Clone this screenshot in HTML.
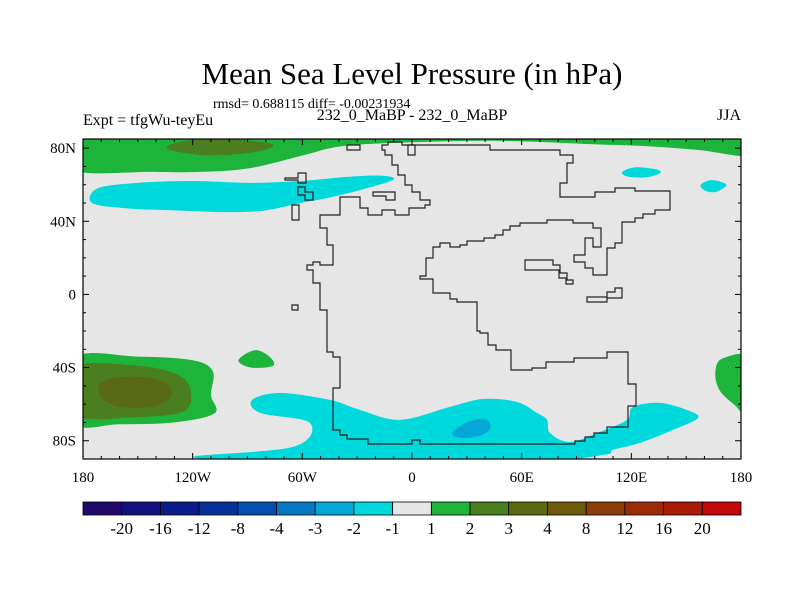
<!DOCTYPE html>
<html><head><meta charset="utf-8"><style>
body{margin:0;background:#fff;}
svg{display:block;font-family:"Liberation Serif",serif;}
</style></head><body>
<svg id="chart" width="800" height="600" viewBox="0 0 800 600">
<text x="412" y="84" font-size="31" text-anchor="middle">Mean Sea Level Pressure (in hPa)</text>
<text x="213" y="108" font-size="14">rmsd= 0.688115 diff= -0.00231934</text>
<text x="83" y="125" font-size="16">Expt = tfgWu-teyEu</text>
<text x="412" y="120" font-size="16" text-anchor="middle">232_0_MaBP - 232_0_MaBP</text>
<text x="741" y="120" font-size="16" text-anchor="end">JJA</text>
<defs><clipPath id="pc"><rect x="83" y="139" width="658" height="320"/></clipPath></defs>
<g id="plot" clip-path="url(#pc)">
<rect x="83" y="139" width="658" height="320" fill="#e6e6e6"/>
<g id="fills"></g>
<g id="coast" fill="none" stroke="#222" stroke-width="1.2">
<path d="M382,145 H388 V142 H402 V145 H490 V150 H560 V155 H573 V163 H567 V183 H560 V197 H595 V192 H615 V188 H635 V191 H670 V210 H655 V214 H643 V218 H635 V222 H622 V243 H615 V248 H607 V275 H593 V268 H585 V262 H574 V255 H585 V238 H593 V247 H601 V228 H593 V223 H573 V220 H547 V223 H520 V226 H510 V230 H503 V235 H495 V238 H484 V241 H467 V245 H460 V247 H450 V243 H440 V247 H433 V258 H426 V276 H420 V279 H433 V293 H450 V299 H457 V302 H477 V331 H480 V333 H488 V345 H496 V350 H511 V370 H532 V368 H546 V362 H574 V358 H607 V352 H628 V384 H636 V406 H628 V427 H607 V433 H594 V437 H585 V441 H575 V444 H420 V440 H412 V444 H368 V439 H347 V435 H340 V430 H333 V388 H340 V357 H333 V352 H327 V310 H320 V283 H313 V270 H307 V265 H313 V262 H320 V265 H333 V245 H327 V228 H320 V215 H340 V197 H360 V208 H368 V215 H382 V210 H395 V215 H409 V208 H425 V205 H430 V200 H420 V192 H412 V185 H405 V175 H398 V165 H392 V155 H385 V150 H382 Z"/>
<path d="M525,260 H553 V265 H560 V273 H567 V280 H573 V284 H566 V278 H559 V270 H525 Z"/>
<path d="M587,297 H607 V292 H615 V288 H622 V298 H607 V302 H587 Z"/>
<path d="M292,305 H298 V310 H292 Z"/>
<path d="M285,178 H298 V173 H306 V183 H298 V180 H285 Z"/>
<path d="M298,187 H305 V192 H313 V200 H305 V195 H298 Z"/>
<path d="M292,205 H299 V220 H292 Z"/>
<path d="M347,145 H360 V150 H347 Z"/>
<path d="M373,192 H395 V200 H386 V196 H373 Z"/>
<path d="M408,145 H415 V155 H408 Z"/>
</g>
</g>
<rect x="83" y="139" width="658" height="320" fill="none" stroke="#000" stroke-width="1.2"/>
<g id="axes" font-size="15"></g>
<g id="cbar" font-size="17"></g>
</svg>
<script>
// ---- data ----
const lonTicks = [-180, -120, -60, 0, 60, 120, 180];
const lonLabels = ["180", "120W", "60W", "0", "60E", "120E", "180"];
const latTicks = [80, 40, 0, -40, -80];
const latLabels = ["80N", "40N", "0", "40S", "80S"];
const levelLabels = ["-20","-16","-12","-8","-4","-3","-2","-1","1","2","3","4","8","12","16","20"];
const levelColors = ["#22096c","#11127f","#0b1d8d","#062f99","#0550ae","#0677c3","#05a7d6","#00d9dc","#e6e6e6","#1eb43c","#4a7e1f","#5a6a12","#6e5a0a","#8a3e0a","#9b2a06","#ab1a08","#c20808"];
// contour regions (lon, lat pairs) with level index
const topGreen = [[-185,88],[185,88],[185,76],[157,79],[130,81],[103,82],[48,84],[-6,83],[-39,81],[-60,76],[-89,69],[-116,67],[-143,67],[-185,68]];
const topOlive = [[-134,81],[-120,84.5],[-95,84.5],[-76,82],[-85,78],[-110,76],[-128,78]];
const cyanBandN = [[-172,58],[-150,61],[-120,62],[-89,61],[-61,62],[-39,64],[-18,65],[-10,63],[-25,58],[-45,53],[-61,50],[-80,46],[-100,45],[-130,46],[-155,47],[-175,50]];
const cyanBlob1 = [[115,67],[122,69.5],[133,68.5],[136,66.5],[128,64],[118,64.5]];
const cyanBlob2 = [[158,60],[164,62.5],[172,60],[166,56],[160,57]];
const greenSW = [[-185,-35],[-150,-34],[-120,-36],[-109,-42],[-110,-55],[-108,-65],[-130,-70],[-160,-71],[-185,-70]];
const oliveSW = [[-185,-40],[-150,-39],[-128,-44],[-121,-53],[-125,-64],[-150,-67],[-185,-66]];
const brownSW = [[-170,-48],[-155,-45],[-138,-47],[-131,-54],[-140,-61],[-160,-61.5],[-170,-56]];
const greenMid = [[-95,-36],[-86,-30.5],[-78,-34],[-76,-39],[-88,-40]];
const greenE = [[185,-35],[170,-35],[166,-42],[168,-52],[176,-60],[185,-66]];
const cyanS = [[-87.5,-57.7],[-72.2,-53.9],[-44.9,-57.7],[-28.4,-63.2],[-6.6,-68.6],[20.8,-61.5],[38.8,-57.2],[57.4,-58.8],[68.4,-64.8],[73.9,-68.6],[75.5,-75.7],[86.4,-80.7],[102.9,-75.2],[117.6,-68.6],[120.9,-61.5],[135.7,-59.3],[150.4,-63.2],[156.5,-67.5],[142.8,-74.1],[124.8,-81.2],[110,-85],[104.5,-87.8],[59,-92],[-61,-92],[-119.8,-88.9],[-65.1,-83.4],[-55.8,-70.3],[-83,-64.8]];
const blueS = [[22,-76],[30,-70],[40,-68],[43,-73],[38,-77],[28,-78.5]];
const regions = [
  {name:"top-positive-band", pts:topGreen, lvl:9},
  {name:"top-positive-core", pts:topOlive, lvl:10},
  {name:"north-negative-band", pts:cyanBandN, lvl:7},
  {name:"northeast-negative-blob", pts:cyanBlob1, lvl:7},
  {name:"far-northeast-negative-blob", pts:cyanBlob2, lvl:7},
  {name:"southwest-positive-outer", pts:greenSW, lvl:9},
  {name:"southwest-positive-middle", pts:oliveSW, lvl:10},
  {name:"southwest-positive-core", pts:brownSW, lvl:11},
  {name:"south-pacific-positive-blob", pts:greenMid, lvl:9},
  {name:"southeast-positive-blob", pts:greenE, lvl:9},
  {name:"south-negative-band", pts:cyanS, lvl:7},
  {name:"south-negative-core", pts:blueS, lvl:6}
];
// ---- axes ----
const X0=83, X1=741, Yt=139, Yb=459;
const xs = lon => X0 + (lon+180)*(X1-X0)/360;
const ys = lat => Yb - (lat+90)*(Yb-Yt)/175;
const NS="http://www.w3.org/2000/svg";
function mk(tag, attrs, parent){const e=document.createElementNS(NS,tag);for(const k in attrs)e.setAttribute(k,attrs[k]);parent.appendChild(e);return e;}
function smooth(pts){
  const p=pts.map(([a,b])=>[xs(a),ys(b)]);const n=p.length;let d=`M${p[0][0]},${p[0][1]}`;
  for(let i=0;i<n;i++){const p0=p[(i-1+n)%n],p1=p[i],p2=p[(i+1)%n],p3=p[(i+2)%n];
    const c1=[p1[0]+(p2[0]-p0[0])/6,p1[1]+(p2[1]-p0[1])/6],c2=[p2[0]-(p3[0]-p1[0])/6,p2[1]-(p3[1]-p1[1])/6];
    d+=` C${c1[0]},${c1[1]} ${c2[0]},${c2[1]} ${p2[0]},${p2[1]}`;}
  return d+"Z";
}
const fills=document.getElementById('fills');
regions.forEach(r=>{
  const el=mk('path',{d:smooth(r.pts),fill:levelColors[r.lvl]},fills);
  
  
});
const ax=document.getElementById('axes');
for(let lon=-180;lon<=180;lon+=10){
  const major=lon%60===0, L=major?6:3, x=xs(lon);
  const t1=mk('line',{x1:x,x2:x,y1:Yb,y2:Yb-L,stroke:'#000'},ax);
  
  
  const t2=mk('line',{x1:x,x2:x,y1:Yt,y2:Yt+L,stroke:'#000'},ax);
  
  
}
for(let lat=-90;lat<=80;lat+=10){
  const major=lat%40===0, L=major?6:3, y=ys(lat);
  const t1=mk('line',{x1:X0,x2:X0+L,y1:y,y2:y,stroke:'#000'},ax);
  
  
  const t2=mk('line',{x1:X1,x2:X1-L,y1:y,y2:y,stroke:'#000'},ax);
  
  
}
lonTicks.forEach((lon,i)=>{
  const t=mk('text',{x:xs(lon),y:482,'text-anchor':'middle'},ax);t.textContent=lonLabels[i];
  
  
});
latTicks.forEach((lat,i)=>{
  const t=mk('text',{x:76,y:ys(lat)+5,'text-anchor':'end'},ax);t.textContent=latLabels[i];
  
  
});
// ---- colorbar ----
const cb=document.getElementById('cbar');
const bw=(X1-X0)/levelColors.length;
levelColors.forEach((c,i)=>{
  const r=mk('rect',{x:X0+i*bw,y:502,width:bw,height:13,fill:c,stroke:'#000','stroke-width':0.8},cb);
  
  
});
levelLabels.forEach((l,i)=>{
  const t=mk('text',{x:X0+(i+1)*bw,y:534,'text-anchor':'middle'},cb);t.textContent=l;
  
  
});
</script>
</body></html>
